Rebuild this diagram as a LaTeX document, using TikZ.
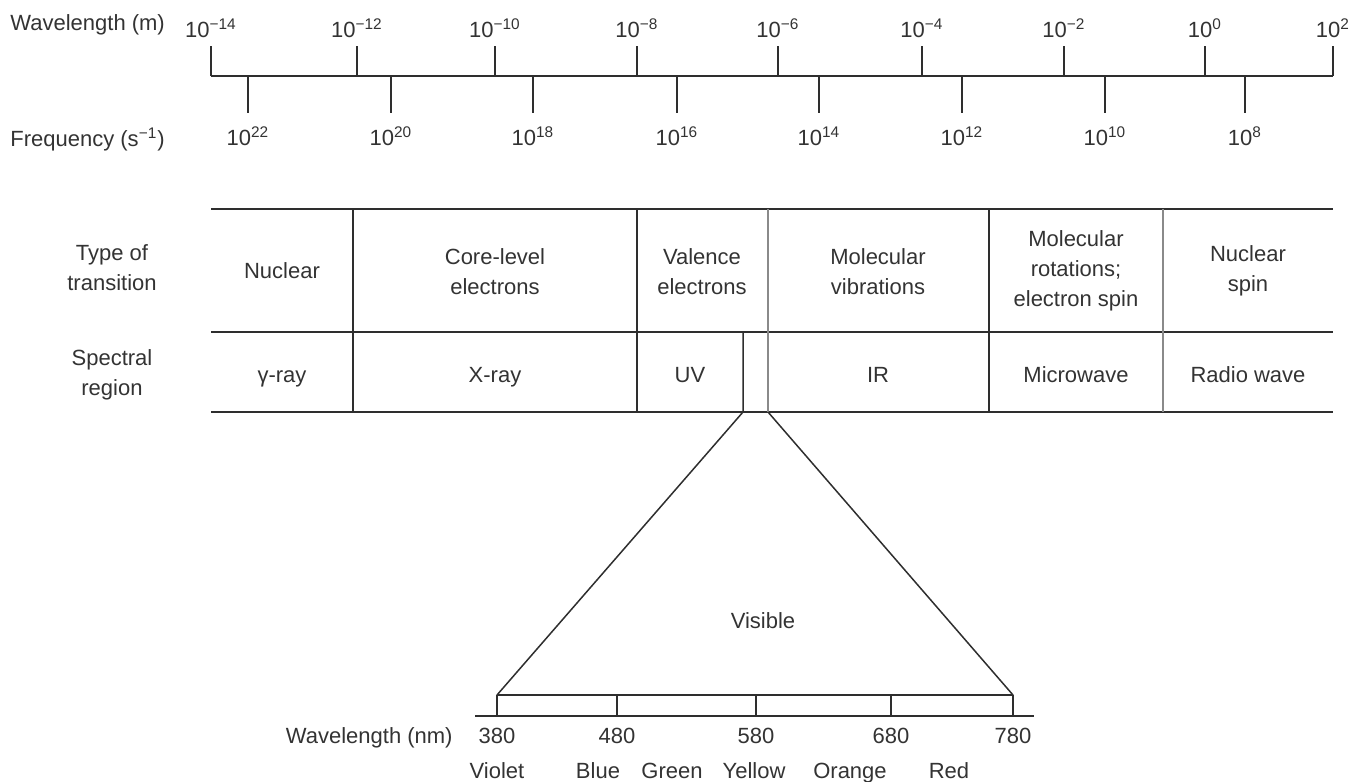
\documentclass[tikz,border=0pt]{standalone}
\usepackage{fontspec}
\setmainfont{Liberation Sans}
\definecolor{txtc}{HTML}{333333}
\definecolor{lnd}{HTML}{2E2E2E}
\definecolor{lng}{HTML}{8A8A8A}
\begin{document}
\begin{tikzpicture}[x=0.5pt,y=-0.5pt,
  txt/.style={font=\fontsize{11}{15}\selectfont, text=txtc, inner sep=0pt, align=center},
  ln/.style={draw=lnd, line width=0.75pt},
  lg/.style={draw=lng, line width=0.6pt}]
\useasboundingbox (0,0) rectangle (1361,782);
% ---------- top scale ----------
\node[txt, anchor=base west] (wlab) at (10,30) {Wavelength (m)};
\node[txt, anchor=base west] (flab) at (10,146) {Frequency (s\textsuperscript{−1})};
\draw[ln] (211,76) -- (1333,76);
\foreach \x/\e [count=\i] in {211/{−14},357/{−12},495/{−10},637/{−8},778/{−6},922/{−4},1064/{−2},1205/{0},1333/{2}}{
  \coordinate (wt\i) at (\x,76);
  \draw[ln] (wt\i) -- ++(0,-30);
  \node[txt, anchor=base] (wl\i) at (\x,37) {10\textsuperscript{\e}};
}
\foreach \x/\e [count=\i] in {248/22,391/20,533/18,677/16,819/14,962/12,1105/10,1245/8}{
  \coordinate (ft\i) at (\x,76);
  \draw[ln] (ft\i) -- ++(0,37);
  \node[txt, anchor=base] (fl\i) at (\x,145) {10\textsuperscript{\e}};
}
% ---------- table ----------
\draw[ln] (211,209) -- (1333,209);
\draw[ln] (211,332) -- (1333,332);
\draw[ln] (211,412) -- (1333,412);
\foreach \x in {353,637,989}{ \draw[ln] (\x,209) -- (\x,412); }
\foreach \x in {768,1163}{ \draw[lg] (\x,209) -- (\x,412); }
\node[txt] (typ) at (112,268) {Type of\\transition};
\node[txt] (spe) at (112,375) {Spectral\\region};
\node[txt] (t1) at (282,271) {Nuclear};
\node[txt] (t2) at (495,272) {Core-level\\electrons};
\node[txt] (t3) at (702,272) {Valence\\electrons};
\node[txt] (t4) at (878,272) {Molecular\\vibrations};
\node[txt] (t5) at (1076,271) {Molecular\\rotations;\\electron spin};
\node[txt] (t6) at (1248,271) {Nuclear\\spin};
\node[txt, anchor=base] (r1) at (282,382) {γ-ray};
\node[txt, anchor=base] (r2) at (495,382) {X-ray};
\node[txt, anchor=base] (r3) at (690,382) {UV};
\node[txt, anchor=base] (r4) at (878,382) {IR};
\node[txt, anchor=base] (r5) at (1076,382) {Microwave};
\node[txt, anchor=base] (r6) at (1248,382) {Radio wave};
% ---------- visible expansion ----------
\coordinate (vl) at (743,412);
\coordinate (vr) at (768,412);
\coordinate (b380) at (497,695);
\coordinate (b780) at (1013,695);
\draw[ln] (743,332) -- (vl) -- (b380);
\draw[ln] (vr) -- (b780);
\node[txt] (vis) at (763,621) {Visible};
\draw[ln] (b380) -- (b780);
\draw[ln] (475,716) -- (1034,716);
\foreach \x/\n in {497/380,617/480,756/580,891/680,1013/780}{
  \draw[ln] (\x,695) -- (\x,716);
  \node[txt, anchor=base] (n\n) at (\x,743) {\n};
}
\node[txt, anchor=base east] (wnm) at (453,743) {Wavelength (nm)};
\foreach \x/\c in {497/Violet,598/Blue,672/Green,754/Yellow,850/Orange,949/Red}{
  \node[txt, anchor=base] (c\c) at (\x,778) {\c};
}
\end{tikzpicture}
\end{document}
